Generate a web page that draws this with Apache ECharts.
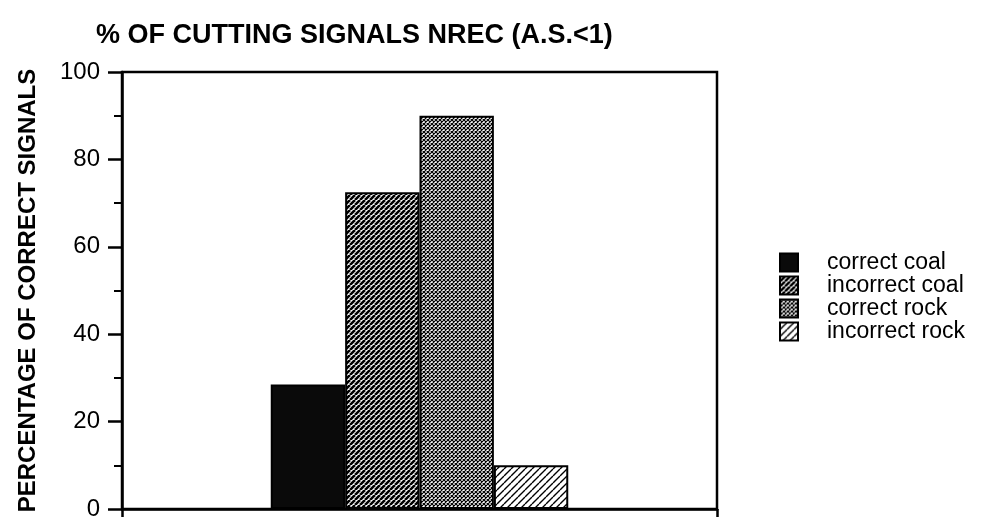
<!DOCTYPE html>
<html>
<head>
<meta charset="utf-8">
<script src="https://cdn.jsdelivr.net/npm/echarts@6/dist/echarts.min.js"></script>
<style>
  html, body { margin: 0; padding: 0; background: #fff; }
  #chart { width: 991px; height: 526px; }
</style>
</head>
<body>
<div id="chart"></div>
<script>
const categories = ['']
const seriesNames = ['correct coal', 'incorrect coal', 'correct rock', 'incorrect rock']
const seriesValues = [28.5, 72.5, 90, 10]

// hatch tiles drawn on small canvases
const makeStripes = (size, lineWidth, bg, fg) => {
  const c = document.createElement('canvas')
  c.width = size
  c.height = size
  const ctx = c.getContext('2d')
  ctx.fillStyle = bg
  ctx.fillRect(0, 0, size, size)
  ctx.strokeStyle = fg
  ctx.lineWidth = lineWidth
  ctx.beginPath()
  for (let k = -1; k <= 1; k++) {
    ctx.moveTo(k * size, size)
    ctx.lineTo(k * size + size, 0)
  }
  ctx.stroke()
  return c
}

const makeCross = (size, lineWidth) => {
  const c = document.createElement('canvas')
  c.width = size
  c.height = size
  const ctx = c.getContext('2d')
  ctx.fillStyle = '#fff'
  ctx.fillRect(0, 0, size, size)
  ctx.strokeStyle = '#000'
  ctx.lineWidth = lineWidth
  ctx.beginPath()
  for (let k = -1; k <= 1; k++) {
    ctx.moveTo(k * size, size)
    ctx.lineTo(k * size + size, 0)
    ctx.moveTo(k * size, 0)
    ctx.lineTo(k * size + size, size)
  }
  ctx.stroke()
  return c
}

const fills = [
  '#0a0a0a',
  { image: makeStripes(5, 2.6, '#fff', '#000'), repeat: 'repeat' },
  { image: makeCross(4, 1.2), repeat: 'repeat' },
  { image: makeStripes(7, 1.4, '#fff', '#000'), repeat: 'repeat' }
]

const font = 'Liberation Sans, Arial, sans-serif'
const chart = echarts.init(document.getElementById('chart'))

const option = {
  animation: false,
  title: {
    text: '% OF CUTTING SIGNALS NREC (A.S.<1)',
    left: 91,
    top: 17,
    textStyle: {
      fontFamily: font,
      fontSize: 27,
      fontWeight: 'bold',
      color: '#000'
    }
  },
  legend: {
    orient: 'vertical',
    left: 774,
    top: 246,
    itemWidth: 18,
    itemHeight: 18,
    itemGap: 0,
    icon: 'rect',
    textStyle: {
      fontFamily: font,
      fontSize: 23,
      lineHeight: 19,
      color: '#000',
      padding: [0, 0, 0, 24]
    },
    data: seriesNames
  },
  grid: {
    left: 122,
    right: 274,
    top: 72,
    bottom: 17,
    show: true,
    borderColor: '#000',
    borderWidth: 2.5,
    containLabel: false
  },
  xAxis: {
    type: 'category',
    data: categories,
    axisLine: { lineStyle: { color: '#000', width: 2.5 } },
    axisTick: { show: true, length: 8, lineStyle: { color: '#000', width: 2.5 } },
    axisLabel: { show: false }
  },
  yAxis: {
    type: 'value',
    min: 0,
    max: 100,
    interval: 20,
    name: 'PERCENTAGE OF CORRECT SIGNALS',
    nameLocation: 'middle',
    nameRotate: 90,
    nameGap: 82,
    nameTextStyle: {
      fontFamily: font,
      fontSize: 24,
      fontWeight: 'bold',
      color: '#000'
    },
    axisLine: { show: true, lineStyle: { color: '#000', width: 2.5 } },
    axisTick: { show: true, length: 14, lineStyle: { color: '#000', width: 2.5 } },
    minorTick: { show: true, splitNumber: 2, length: 8, lineStyle: { color: '#000', width: 2 } },
    splitLine: { show: false },
    axisLabel: {
      margin: 22,
      fontFamily: font,
      fontSize: 24,
      color: '#000'
    }
  },
  series: seriesNames.map((name, i) => ({
    name,
    type: 'bar',
    barGap: 0,
    barCategoryGap: '50%',
    data: [seriesValues[i]],
    itemStyle: {
      color: fills[i],
      borderColor: '#000',
      borderWidth: 2
    }
  }))
}

chart.setOption(option)
</script>
</body>
</html>
